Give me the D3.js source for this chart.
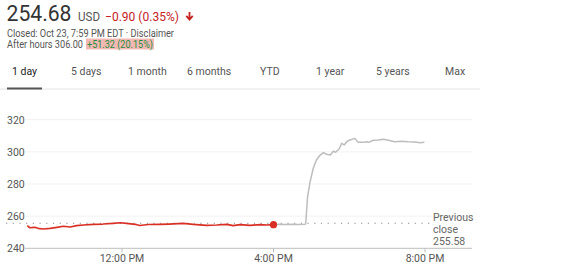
<!DOCTYPE html>
<html><head><meta charset="utf-8">
<script src="https://cdn.jsdelivr.net/npm/d3@7"></script>
<style>
html,body{margin:0;padding:0;background:#fff;}
svg{display:block;font-family:Roboto, Arial, sans-serif;}
</style></head>
<body>
<svg id="c" width="582" height="273"></svg>
<script>
// ---- data ----
const regularTimes = ["9:30","9:34","9:42","9:47","9:55","10:06","10:17","10:27","10:38","10:48","10:59","11:15","11:30","11:46","11:57","12:07","12:21","12:28","12:42","13:00","13:14","13:37","13:53","14:14","14:30","14:46","14:56","15:07","15:23","15:39","15:49","16:00"];
const regularValues = [254.06,252.8,253.06,252.44,252.0,252.44,253.06,253.7,253.25,254.06,254.5,254.93,255.1,255.55,255.9,255.55,254.93,254.2,254.8,254.93,255.1,255.55,254.93,254.3,254.5,254.93,254.06,254.68,254.3,254.68,254.5,254.68];
const afterTimes = ["16:00","16:10","16:20","16:30","16:40","16:50","16:51","16:54","16:58","17:03","17:08","17:14","17:19","17:24","17:30","17:35","17:38","17:44","17:48","17:52","17:56","18:01","18:09","18:14","18:22","18:28","18:31","18:38","18:46","18:54","19:02","19:12","19:23","19:33","19:44","19:52","19:59"];
const afterValues = [254.68,254.9,254.8,254.9,254.8,254.9,255.3,272.1,281.4,289.8,294.9,298.0,299.5,298.5,298.0,300.5,299.7,301.8,305.3,304.3,306.3,307.4,308.4,305.9,305.9,306.3,305.9,307.2,307.4,307.8,307.2,306.3,306.6,306.3,306.1,305.7,306.0];
const previousClose = 255.58;
const closeValue = 254.68;
const yTicks = [240,260,280,300,320];
const xTickLabels = ["12:00","16:00","20:00"];
const xTickText = ["12:00 PM","4:00 PM","8:00 PM"];
const tabs = ["1 day","5 days","1 month","6 months","YTD","1 year","5 years","Max"];
const tabX = [12,71,128,187,260,316,376,445];

// ---- helpers ----
const day = "2018-10-23 ";
const parse = d3.timeParse("%Y-%m-%d %H:%M");
const T = s => parse(day + s);

const svg = d3.select("#c");
const x = d3.scaleTime().domain([T("9:30"), T("20:00")]).range([27.3, 425]);
const y = d3.scaleLinear().domain([240, 320]).range([248.3, 119.7]);

// ---- header ----
svg.append("text").attr("x", 6.5).attr("y", 21).attr("font-size", 22).attr("fill", "#333")
  .attr("textLength", 65).attr("lengthAdjust", "spacingAndGlyphs").text("254.68");
svg.append("text").attr("x", 78).attr("y", 20.5).attr("font-size", 12).attr("fill", "#555")
  .attr("textLength", 22).attr("lengthAdjust", "spacingAndGlyphs").text("USD");
svg.append("text").attr("x", 105).attr("y", 20.5).attr("font-size", 12.5).attr("fill", "#c5221f")
  .attr("textLength", 74).attr("lengthAdjust", "spacingAndGlyphs").text("\u22120.90 (0.35%)");
// down arrow
svg.append("path").attr("d", "M189.5,12 L189.5,18.5 M186.3,15.8 L189.5,19.5 L192.7,15.8")
  .attr("stroke", "#c5221f").attr("stroke-width", 1.8).attr("fill", "none");

svg.append("text").attr("x", 7).attr("y", 37).attr("font-size", 10).attr("fill", "#555")
  .attr("textLength", 167).attr("lengthAdjust", "spacingAndGlyphs")
  .text("Closed: Oct 23, 7:59 PM EDT \u00b7 Disclaimer");
svg.append("text").attr("x", 7).attr("y", 48).attr("font-size", 10).attr("fill", "#555")
  .attr("textLength", 76).attr("lengthAdjust", "spacingAndGlyphs")
  .text("After hours 306.00");
svg.append("rect").attr("x", 86).attr("y", 38.5).attr("width", 68).attr("height", 11).attr("fill", "#f4b8b4");
svg.append("text").attr("x", 87).attr("y", 48).attr("font-size", 10).attr("fill", "#1e8e3e")
  .attr("textLength", 66).attr("lengthAdjust", "spacingAndGlyphs")
  .text("+51.32 (20.15%)");

// ---- tabs ----
svg.selectAll("text.tab").data(tabs).join("text").attr("class", "tab")
  .attr("x", (d, i) => tabX[i]).attr("y", 75).attr("font-size", 10.5)
  .attr("fill", (d, i) => i === 0 ? "#222" : "#555").text(d => d);
svg.append("line").attr("x1", 0).attr("x2", 480).attr("y1", 89).attr("y2", 89).attr("stroke", "#e4e4e4");
svg.append("line").attr("x1", 7).attr("x2", 42).attr("y1", 88.5).attr("y2", 88.5).attr("stroke", "#555").attr("stroke-width", 2);

// ---- grid + y labels ----
svg.selectAll("line.grid").data(yTicks).join("line").attr("class", "grid")
  .attr("x1", 25).attr("x2", 472).attr("y1", d => y(d)).attr("y2", d => y(d))
  .attr("stroke", d => d === 240 ? "#bdbdbd" : "#f1f1f1");
svg.selectAll("text.ylab").data(yTicks).join("text").attr("class", "ylab")
  .attr("x", 7).attr("y", d => y(d) + 3.8).attr("font-size", 10.5).attr("fill", "#555").text(d => d);

// ---- x ticks ----
svg.selectAll("line.xt").data(xTickLabels).join("line").attr("class", "xt")
  .attr("x1", d => x(T(d))).attr("x2", d => x(T(d))).attr("y1", y(240)).attr("y2", y(240) + 4)
  .attr("stroke", "#bdbdbd");
svg.selectAll("text.xl").data(xTickLabels).join("text").attr("class", "xl")
  .attr("x", d => x(T(d))).attr("y", 262).attr("text-anchor", "middle").attr("font-size", 10.5)
  .attr("fill", "#555").text((d, i) => xTickText[i]);

// ---- previous close ----
svg.append("line").attr("x1", 6).attr("x2", 430).attr("y1", y(previousClose)).attr("y2", y(previousClose))
  .attr("stroke", "#8a8a8a").attr("stroke-width", 1.2).attr("stroke-dasharray", "1.2,5.5");
["Previous", "close", String(previousClose)].forEach((t, i) =>
  svg.append("text").attr("x", 433).attr("y", 221 + i * 12).attr("font-size", 10.5).attr("fill", "#666").text(t));

// ---- lines ----
const line = d3.line().x(d => x(T(d[0]))).y(d => y(d[1])).curve(d3.curveLinear);
svg.append("path").datum(afterTimes.map((t, i) => [t, afterValues[i]]))
  .attr("d", line).attr("fill", "none").attr("stroke", "#bdbdbd").attr("stroke-width", 1.5)
  .attr("stroke-linejoin", "round");
svg.append("path").datum(regularTimes.map((t, i) => [t, regularValues[i]]))
  .attr("d", line).attr("fill", "none").attr("stroke", "#d93025").attr("stroke-width", 1.7)
  .attr("stroke-linejoin", "round");
svg.append("circle").attr("cx", x(T("16:00"))).attr("cy", y(closeValue)).attr("r", 3.6).attr("fill", "#d93025");
</script>
</body></html>
